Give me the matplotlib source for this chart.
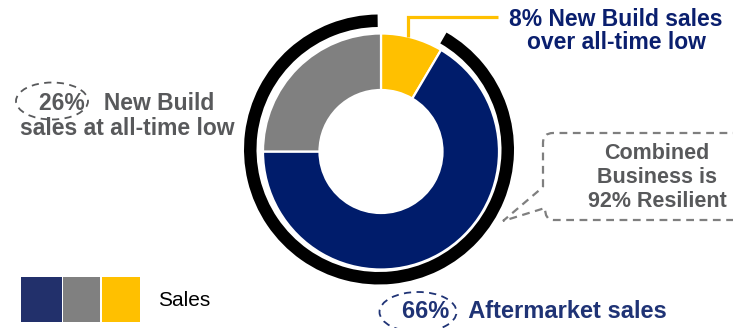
import matplotlib
matplotlib.use("Agg")
import matplotlib.pyplot as plt
from matplotlib.patches import Ellipse, Rectangle, PathPatch
from matplotlib.path import Path

# ---- data ----
segments = ["New Build sales over all-time low", "Aftermarket sales", "New Build sales at all-time low"]
shares = [8.5, 66.5, 25.0]
seg_colors = ["#FFC000", "#001C6B", "#808080"]
ring_values = [91.5, 8.5]          # resilient share vs. remainder
ring_colors = ["#000000", "none"]
legend_colors = ["#22306B", "#808080", "#FFC000"]
legend_label = "Sales"

lbl_top = "8% New Build sales\nover all-time low"
lbl_left = "26%   New Build\nsales at all-time low"
lbl_box = "Combined\nBusiness is\n92% Resilient"
lbl_bottom = "66%   Aftermarket sales"

W, H = 733, 328
def Y(y):
    return H - y

plt.rcParams['font.family'] = ['Liberation Sans', 'DejaVu Sans']

fig = plt.figure(figsize=(W / 100, H / 100), dpi=100)
ax = fig.add_axes([0, 0, 1, 1])

# donut
ax.pie(shares, colors=seg_colors, startangle=90, counterclock=False,
       radius=118, center=(381, Y(151.5)), frame=True,
       wedgeprops=dict(width=118 - 61.5, edgecolor="white", linewidth=1.6))
# outer black ring
ax.pie(ring_values, colors=ring_colors, startangle=60, counterclock=False,
       radius=135, center=(379, Y(149.5)), frame=True,
       wedgeprops=dict(width=12.5, linewidth=0))

ax.set_xlim(0, W)
ax.set_ylim(0, H)
ax.set_aspect("equal")
ax.axis("off")

gray_txt = "#58595B"
navy_txt = "#0A1F6E"
navy2_txt = "#1F3375"

# yellow leader
ax.plot([408, 408, 498], [Y(37), Y(17), Y(17)], color="#FFC000", lw=2.3,
        solid_joinstyle="miter", solid_capstyle="butt")
ax.text(616, Y(31), lbl_top, ha="center", va="center", fontsize=16.5,
        fontweight="bold", color=navy_txt, linespacing=1.05)

# left label
ax.text(127, Y(116), lbl_left, ha="center", va="center", fontsize=16.5,
        fontweight="bold", color=gray_txt, linespacing=1.12)
ax.add_patch(Ellipse((52, Y(101)), 72, 37, fill=False, ec=gray_txt, lw=1.3,
                     ls=(0, (4, 3))))

# callout box
r = 10
verts = [
    (543, Y(187)), (543, Y(133 + r)), (543, Y(133)), (543 + r, Y(133)),
    (745, Y(133)), (745, Y(220)), (543 + r, Y(220)), (545, Y(220)), (545, Y(208)),
    (503, Y(221)), (543, Y(187)),
]
codes = [Path.MOVETO, Path.LINETO, Path.CURVE3, Path.CURVE3,
         Path.LINETO, Path.LINETO, Path.LINETO, Path.CURVE3, Path.CURVE3,
         Path.LINETO, Path.LINETO]
ax.add_patch(PathPatch(Path(verts, codes), fill=False, ec="#7F7F7F", lw=1.6,
                       ls=(0, (3.5, 2.5)), clip_on=True))
ax.text(657, Y(177.5), lbl_box, ha="center", va="center", fontsize=15.5,
        fontweight="bold", color=gray_txt, linespacing=1.19)

# bottom label
ax.text(402, Y(312), lbl_bottom, ha="left", va="center", fontsize=17,
        fontweight="bold", color=navy2_txt)
ax.add_patch(Ellipse((418, Y(312)), 77, 40, fill=False, ec=navy2_txt, lw=1.3,
                     ls=(0, (4, 3))))

# legend swatches
xs = [21, 63, 102]
ws = [41, 37, 38]
for x0, w0, c in zip(xs, ws, legend_colors):
    ax.add_patch(Rectangle((x0, Y(322)), w0, 45, color=c, lw=0))
ax.text(158, Y(300), legend_label, ha="left", va="center", fontsize=15,
        color="black")

fig.savefig("out.png", dpi=100)
